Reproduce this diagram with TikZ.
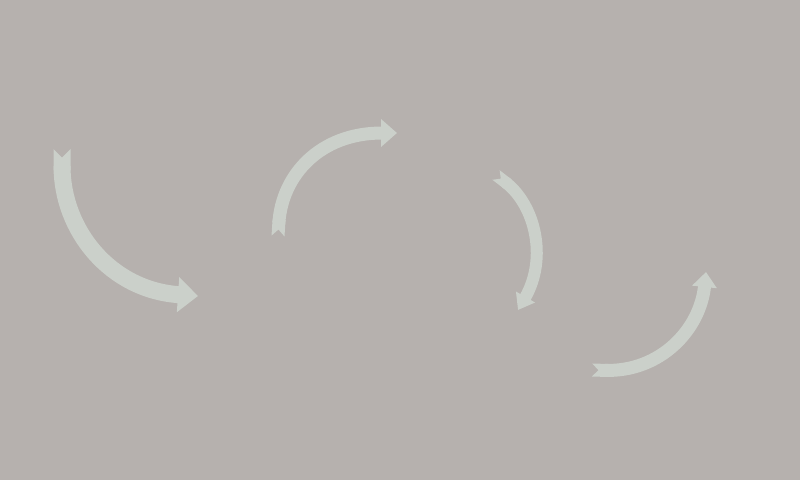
\documentclass[tikz,border=0pt]{standalone}
\usetikzlibrary{arrows.meta}
\definecolor{backgrey}{RGB}{182,177,174}
\definecolor{arrowgrey}{RGB}{203,208,202}
\tikzset{curvearrow/.style n args={3}{draw=arrowgrey, line width=#1,
    {Triangle Cap[reversed]}-{Triangle[length=#2, width=#3]}}}

\begin{document}
\begin{tikzpicture}[x=1pt, y=-1pt]

\fill [backgrey] (0,0) rectangle (800,480);

\coordinate (tail1) at (62,149);
\coordinate (tip1) at (198,296);
\coordinate (tail2) at (278,236);
\coordinate (tip2) at (397,133);
\coordinate (tail3) at (496,175);
\coordinate (tip3) at (518,310);
\coordinate (tail4) at (592,370);
\coordinate (tip4) at (706,272);

\draw [curvearrow={17pt}{20pt}{34pt}] (tail1) .. controls (62,230) and (110,290) .. (tip1);
\draw [curvearrow={13pt}{16pt}{27pt}] (tail2) .. controls (282,175) and (320,133) .. (tip2);
\draw [curvearrow={12pt}{15pt}{21pt}] (tail3) .. controls (535,205) and (548,258) .. (tip3);
\draw [curvearrow={13pt}{15pt}{24pt}] (tail4) .. controls (660,372) and (700,330) .. (tip4);

\end{tikzpicture}
\end{document}
